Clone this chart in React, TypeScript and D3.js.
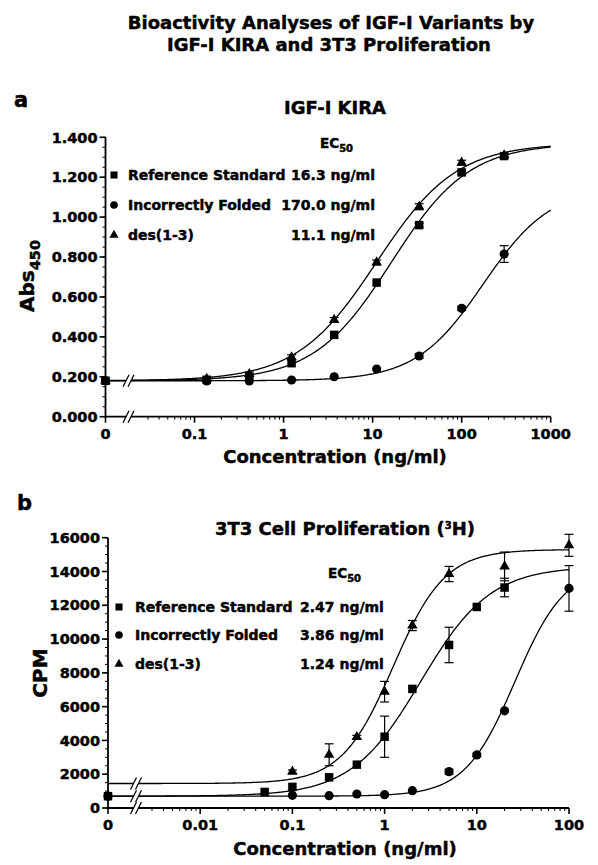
import React, { useEffect, useRef } from 'react';
import * as d3 from 'd3';

// ---- panel a: IGF-I KIRA (3-fold dilutions, 0 = no IGF-I) ----
const kiraConc = [0, 0.137, 0.412, 1.23, 3.7, 11.1, 33.3, 100, 300];
const kiraRef = [0.18, 0.185, 0.2, 0.268, 0.41, 0.672, 0.96, 1.224, 1.306];
const kiraRefErr = [0, 0, 0, 0, 0, 0, 0.01, 0.01, 0.008];
const kiraMisfold = [0.18, 0.179, 0.179, 0.184, 0.2, 0.239, 0.304, 0.543, 0.815];
const kiraMisfoldErr = [0, 0, 0, 0, 0, 0, 0.012, 0.01, 0.042];
const kiraDes = [0.18, 0.19, 0.214, 0.298, 0.485, 0.773, 1.052, 1.273, 1.31];
const kiraDesErr = [0, 0.008, 0.01, 0.012, 0.012, 0.012, 0.015, 0.012, 0.008];
// 4-parameter fits: reference, misfolded, des(1-3)
const kiraBottom = [0.18, 0.18, 0.18];
const kiraTop = [1.37, 1.15, 1.37];
const kiraMid = [16.3, 175, 11.1];
const kiraSlope = [1.0, 1.15, 0.97];
const kiraEc50 = ['16.3 ng/ml', '170.0 ng/ml', '11.1 ng/ml'];
const kiraYTicks = [0, 0.2, 0.4, 0.6, 0.8, 1.0, 1.2, 1.4];
const kiraXTicks = [0.01, 0.1, 1, 10, 100, 1000];
const kiraXLabels = ['0', '0.1', '1', '10', '100', '1000'];

// ---- panel b: 3T3 proliferation ----
const prolConc = [0, 0.05, 0.1, 0.25, 0.5, 1, 2, 5, 10, 20, 100];
const prolRef = [700, 950, 1250, 1815, 2565, 4220, 7050, 9650, 11900, 13050, null];
const prolRefErr = [0, 0, 0, 0, 0, 1220, 0, 1050, 0, 550, 0];
const prolMisfold = [700, null, 750, 730, 830, 790, 1025, 2150, 3140, 5750, 13000];
const prolMisfoldErr = [0, 0, 0, 0, 0, 0, 0, 150, 100, 0, 1350];
const prolDes = [null, null, 2150, 3150, 4200, 6885, 10800, 13850, null, 14300, 15550];
const prolDesErr = [0, 0, 100, 650, 100, 610, 300, 450, 0, 850, 650];
const prolBottom = [700, 700, 1450];
const prolTop = [14300, 14300, 15300];
const prolMid = [2.47, 26, 1.24];
const prolSlope = [1.15, 1.6, 1.55];
const prolEc50 = ['2.47 ng/ml', '3.86 ng/ml', '1.24 ng/ml'];
const prolYTicks = [0, 2000, 4000, 6000, 8000, 10000, 12000, 14000, 16000];
const prolXTicks = [0.001, 0.01, 0.1, 1, 10, 100];
const prolXLabels = ['0', '0.01', '0.1', '1', '10', '100'];

const seriesNames = ['Reference Standard', 'Incorrectly Folded', 'des(1-3)'];
const symbols = [d3.symbolSquare, d3.symbolCircle, d3.symbolTriangle];

const FONT = "'DejaVu Sans', sans-serif";

function drawPanel(g, p) {
  const x = d3.scaleLog().domain(p.xDomain).range(p.xRange);
  const y = d3.scaleLinear().domain(p.yDomain).range(p.yRange);
  const xc = (c) => x(c === 0 ? p.xDomain[0] : c);
  const x0 = p.xRange[0];
  const y0 = y(0);

  // fitted curves
  const lo = Math.log10(p.xDomain[0]);
  const hi = Math.log10(p.xDomain[1]);
  const grid = d3.range(0, 401).map((i) => Math.pow(10, lo + (i * (hi - lo)) / 400));
  const line = d3.line().x((d) => x(d[0])).y((d) => y(d[1]));
  p.mid.forEach((c, k) => {
    const pts = grid.map((v) => [v, p.bottom[k] + (p.top[k] - p.bottom[k]) / (1 + Math.pow(c / v, p.slope[k]))]);
    g.append('path').attr('d', line(pts)).attr('fill', 'none').attr('stroke', '#000').attr('stroke-width', 1.3);
  });

  // axes
  g.append('line').attr('x1', x0).attr('x2', p.xRange[1]).attr('y1', y0).attr('y2', y0)
    .attr('stroke', '#000').attr('stroke-width', 1.8);
  g.append('line').attr('x1', x0).attr('x2', x0).attr('y1', y0).attr('y2', p.yRange[1])
    .attr('stroke', '#000').attr('stroke-width', 1.8);

  const yMinor = d3.range(0, p.yDomain[1] + 1e-9, p.yMinor);
  g.selectAll(null).data(yMinor).join('line')
    .attr('x1', x0 - 3).attr('x2', x0).attr('y1', (d) => y(d)).attr('y2', (d) => y(d))
    .attr('stroke', '#000').attr('stroke-width', 1);
  g.selectAll(null).data(p.yTicks).join('line')
    .attr('x1', x0 - 6).attr('x2', x0).attr('y1', (d) => y(d)).attr('y2', (d) => y(d))
    .attr('stroke', '#000').attr('stroke-width', 1.6);
  g.selectAll(null).data(p.yTicks).join('text')
    .attr('x', x0 - 8).attr('y', (d) => y(d)).attr('dy', '0.36em')
    .attr('text-anchor', 'end').attr('font-size', 14.5)
    .text((d) => p.yFormat(d));

  const xMinor = [];
  p.xTicks.slice(0, -1).forEach((t, i) => {
    for (let m = 2; m <= 9; m++) {
      if (i === 0 && m < 3) continue;
      xMinor.push(t * m);
    }
  });
  g.selectAll(null).data(xMinor).join('line')
    .attr('x1', (d) => x(d)).attr('x2', (d) => x(d)).attr('y1', y0).attr('y2', y0 + 3)
    .attr('stroke', '#000').attr('stroke-width', 1);
  g.selectAll(null).data(p.xTicks).join('line')
    .attr('x1', (d) => x(d)).attr('x2', (d) => x(d)).attr('y1', y0).attr('y2', y0 + 6)
    .attr('stroke', '#000').attr('stroke-width', 1.6);
  g.selectAll(null).data(p.xTicks).join('text')
    .attr('x', (d) => x(d)).attr('y', y0 + 22)
    .attr('text-anchor', 'middle').attr('font-size', 14.5)
    .text((d, i) => p.xLabels[i]);

  // axis breaks
  [y0, ...p.breakLevels.map((v) => y(v))].forEach((by) => {
    const bx = p.breakX;
    g.append('polygon')
      .attr('points', `${bx - 5.5},${by + 6} ${bx + 0.5},${by - 6} ${bx + 5.5},${by - 6} ${bx - 0.5},${by + 6}`)
      .attr('fill', '#fff');
    [-2.5, 2.5].forEach((o) => {
      g.append('line').attr('x1', bx + o - 3).attr('y1', by + 6).attr('x2', bx + o + 3).attr('y2', by - 6)
        .attr('stroke', '#000').attr('stroke-width', 1.2);
    });
  });

  // data points with error bars
  p.series.forEach((vals, k) => {
    const errs = p.errors[k];
    const pts = p.conc.map((c, i) => ({ c, v: vals[i], e: errs[i] })).filter((d) => d.v != null);
    pts.filter((d) => d.e > 0).forEach((d) => {
      const cx = xc(d.c);
      const ya = y(d.v + d.e);
      const yb = y(d.v - d.e);
      g.append('line').attr('x1', cx).attr('x2', cx).attr('y1', ya).attr('y2', yb).attr('stroke', '#000').attr('stroke-width', 1.2);
      [ya, yb].forEach((yy) => {
        g.append('line').attr('x1', cx - 4.5).attr('x2', cx + 4.5).attr('y1', yy).attr('y2', yy).attr('stroke', '#000').attr('stroke-width', 1.2);
      });
    });
    const sym = d3.symbol().type(symbols[k]).size(p.markerSize[k]);
    g.selectAll(null).data(pts).join('path')
      .attr('d', sym)
      .attr('transform', (d) => `translate(${xc(d.c)},${y(d.v)})`)
      .attr('fill', '#000');
  });

  // panel letter and title
  g.append('text').attr('x', p.letterPos[0]).attr('y', p.letterPos[1]).text(p.letter)
    .attr('font-size', 21);
  const t = g.append('text').attr('x', p.titlePos[0]).attr('y', p.titlePos[1]).attr('text-anchor', 'middle')
    .attr('font-size', 18);
  p.title.forEach((part) => {
    const ts = t.append('tspan').text(part.text);
    if (part.sup) ts.attr('font-size', 10).attr('baseline-shift', '60%');
  });

  // legend
  const ec = g.append('text').attr('x', p.ecPos[0]).attr('y', p.ecPos[1]).attr('font-size', 13.5);
  ec.append('tspan').text('EC');
  ec.append('tspan').text('50').attr('font-size', 10).attr('dy', 4);
  p.legendRows.forEach((ry, k) => {
    g.append('path').attr('d', d3.symbol().type(symbols[k]).size(p.legendMarker[k])())
      .attr('transform', `translate(${p.legendX},${ry})`).attr('fill', '#000');
    g.append('text').attr('x', p.legendTextX).attr('y', ry).attr('dy', '0.36em').text(seriesNames[k])
      .attr('font-size', 14);
    g.append('text').attr('x', p.valueX).attr('y', ry).attr('dy', '0.36em').text(p.ec50[k])
      .attr('text-anchor', p.valueAnchor).attr('font-size', 14);
  });

  // axis titles
  const yl = g.append('text').attr('transform', `translate(${p.yLabelPos[0]},${p.yLabelPos[1]}) rotate(-90)`)
    .attr('text-anchor', 'middle').attr('font-size', 20);
  yl.append('tspan').text(p.yLabel);
  if (p.yLabelSub) yl.append('tspan').text(p.yLabelSub).attr('font-size', 14.5).attr('dy', 6);
  g.append('text').attr('x', p.xLabelPos[0]).attr('y', p.xLabelPos[1]).attr('text-anchor', 'middle')
    .text('Concentration (ng/ml)').attr('font-size', 18);
}

export default function App() {
  const ref = useRef(null);

  useEffect(() => {
    const svg = d3.select(ref.current);
    svg.selectAll('*').remove();
    svg.append('style').text(
      `text { font-family: ${FONT}; font-weight: bold; fill: #000; stroke: #000; stroke-width: 0.45px; }`
    );

    const title = svg.append('text').attr('text-anchor', 'middle').attr('font-size', 18);
    title.append('tspan').attr('x', 331).attr('y', 29).text('Bioactivity Analyses of IGF-I Variants by');
    title.append('tspan').attr('x', 329).attr('y', 51).text('IGF-I KIRA and 3T3 Proliferation');

    drawPanel(svg.append('g'), {
      xDomain: [0.01, 1000], xRange: [105.5, 550.7],
      yDomain: [0, 1.4], yRange: [416.7, 137.3],
      yTicks: kiraYTicks, yMinor: 0.05, yFormat: d3.format('.3f'),
      xTicks: kiraXTicks, xLabels: kiraXLabels,
      breakX: 128.5, breakLevels: [0.18],
      conc: kiraConc,
      series: [kiraRef, kiraMisfold, kiraDes],
      errors: [kiraRefErr, kiraMisfoldErr, kiraDesErr],
      bottom: kiraBottom, top: kiraTop, mid: kiraMid, slope: kiraSlope,
      markerSize: [72, 66, 48],
      letter: 'a', letterPos: [14, 107],
      title: [{ text: 'IGF-I KIRA' }], titlePos: [335, 114],
      ecPos: [320, 148],
      legendRows: [175, 205, 235], legendX: 114, legendMarker: [50, 46, 36], legendTextX: 128,
      ec50: kiraEc50, valueX: 375, valueAnchor: 'end',
      yLabel: 'Abs', yLabelSub: '450', yLabelPos: [34, 276],
      xLabelPos: [335, 463],
    });

    drawPanel(svg.append('g'), {
      xDomain: [0.001, 100], xRange: [108, 569],
      yDomain: [0, 16000], yRange: [808, 537.7],
      yTicks: prolYTicks, yMinor: 500, yFormat: d3.format('d'),
      xTicks: prolXTicks, xLabels: prolXLabels,
      breakX: 136, breakLevels: [700, 1450],
      conc: prolConc,
      series: [prolRef, prolMisfold, prolDes],
      errors: [prolRefErr, prolMisfoldErr, prolDesErr],
      bottom: prolBottom, top: prolTop, mid: prolMid, slope: prolSlope,
      markerSize: [72, 66, 48],
      letter: 'b', letterPos: [17, 510],
      title: [{ text: '3T3 Cell Proliferation (' }, { text: '3', sup: true }, { text: 'H)' }], titlePos: [345, 535],
      ecPos: [328, 578],
      legendRows: [607, 635, 664], legendX: 119, legendMarker: [50, 46, 36], legendTextX: 135,
      ec50: prolEc50, valueX: 300, valueAnchor: 'start',
      yLabel: 'CPM', yLabelSub: null, yLabelPos: [47, 673],
      xLabelPos: [345, 855],
    });
  }, []);

  return (
    <svg ref={ref} width={598} height={865}
      style={{ position: 'absolute', left: 0, top: 0, background: '#fff' }} />
  );
}
